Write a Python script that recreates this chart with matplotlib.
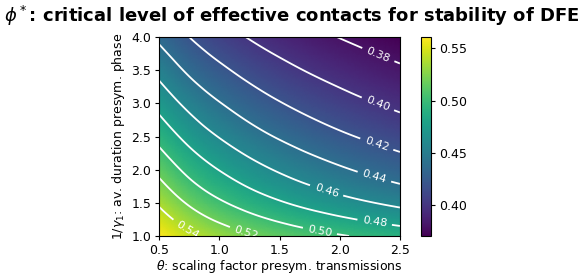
import numpy as np
import matplotlib.pyplot as plt
import matplotlib.tri as mtri

# theta: scaling factor presym. transmissions (columns)
theta_vals = [0.5, 0.75, 1.0, 1.25, 1.5, 1.75, 2.0, 2.25, 2.5]
# 1/gamma_1: av. duration presym. phase (rows)
duration_vals = [1.0, 1.5, 2.0, 2.5, 3.0, 3.5, 4.0]
# phi*
phi_star = [
    [0.5610, 0.5444, 0.5321, 0.5223, 0.5143, 0.5075, 0.5017, 0.4966, 0.4920],
    [0.5373, 0.5176, 0.5030, 0.4915, 0.4820, 0.4740, 0.4670, 0.4609, 0.4555],
    [0.5148, 0.4945, 0.4795, 0.4676, 0.4579, 0.4497, 0.4425, 0.4362, 0.4305],
    [0.4935, 0.4738, 0.4592, 0.4476, 0.4382, 0.4302, 0.4232, 0.4171, 0.4116],
    [0.4734, 0.4547, 0.4409, 0.4300, 0.4210, 0.4135, 0.4069, 0.4011, 0.3960],
    [0.4543, 0.4368, 0.4240, 0.4139, 0.4056, 0.3986, 0.3926, 0.3872, 0.3825],
    [0.4362, 0.4200, 0.4082, 0.3989, 0.3913, 0.3850, 0.3795, 0.3748, 0.3705],
]
contour_levels = [0.38, 0.40, 0.42, 0.44, 0.46, 0.48, 0.50, 0.52, 0.54]
cbar_ticks = [0.40, 0.45, 0.50, 0.55]

W, H = 582, 277


def box(x0, y0, x1, y1):
    # pixel box -> figure fraction
    return [x0 / W, 1 - y1 / H, (x1 - x0) / W, (y1 - y0) / H]


plt.rcParams['font.size'] = 9

fig = plt.figure(figsize=(W / 100, H / 100), dpi=100)
ax = fig.add_axes(box(159, 37, 400, 236))
cax = fig.add_axes(box(421, 37, 431, 236))

TH, DU = np.meshgrid(theta_vals, duration_vals)
Z = np.array(phi_star)
tri = mtri.Triangulation(TH.ravel(), DU.ravel())
interp = mtri.CubicTriInterpolator(tri, Z.ravel(), kind='min_E')
tri_f, z_f = mtri.UniformTriRefiner(tri).refine_field(Z.ravel(), triinterpolator=interp, subdiv=4)

pc = ax.tripcolor(tri_f, z_f, cmap='viridis', shading='gouraud')
cs = ax.tricontour(tri_f, z_f, levels=contour_levels, colors='white', linewidths=1.3)
# label spots, same places as the original
spots = [(2.31, 3.69), (2.31, 2.96), (2.31, 2.40), (2.29, 1.91), (1.9, 1.74),
         (2.29, 1.21), (1.84, 1.12), (1.24, 1.135), (0.76, 1.16)]
ax.clabel(cs, fmt='%.2f', fontsize=8, manual=spots)

ax.set_xlim(0.5, 2.5)
ax.set_ylim(1.0, 4.0)
ax.set_xticks([0.5, 1.0, 1.5, 2.0, 2.5])
ax.tick_params(length=3, pad=2.5)
ax.set_xlabel(r'$\theta$: scaling factor presym. transmissions', labelpad=1)
ax.set_ylabel(r'$1/\gamma_1$: av. duration presym. phase', labelpad=3)

cb = fig.colorbar(pc, cax=cax, ticks=cbar_ticks)
cb.ax.tick_params(length=3, pad=2.5)

fig.text(291.5 / W, 1 - 22 / H, r'$\phi^*$: critical level of effective contacts for stability of DFE',
         ha='center', va='baseline', fontsize=13, fontweight='bold')

fig.savefig('out.png', dpi=100)
